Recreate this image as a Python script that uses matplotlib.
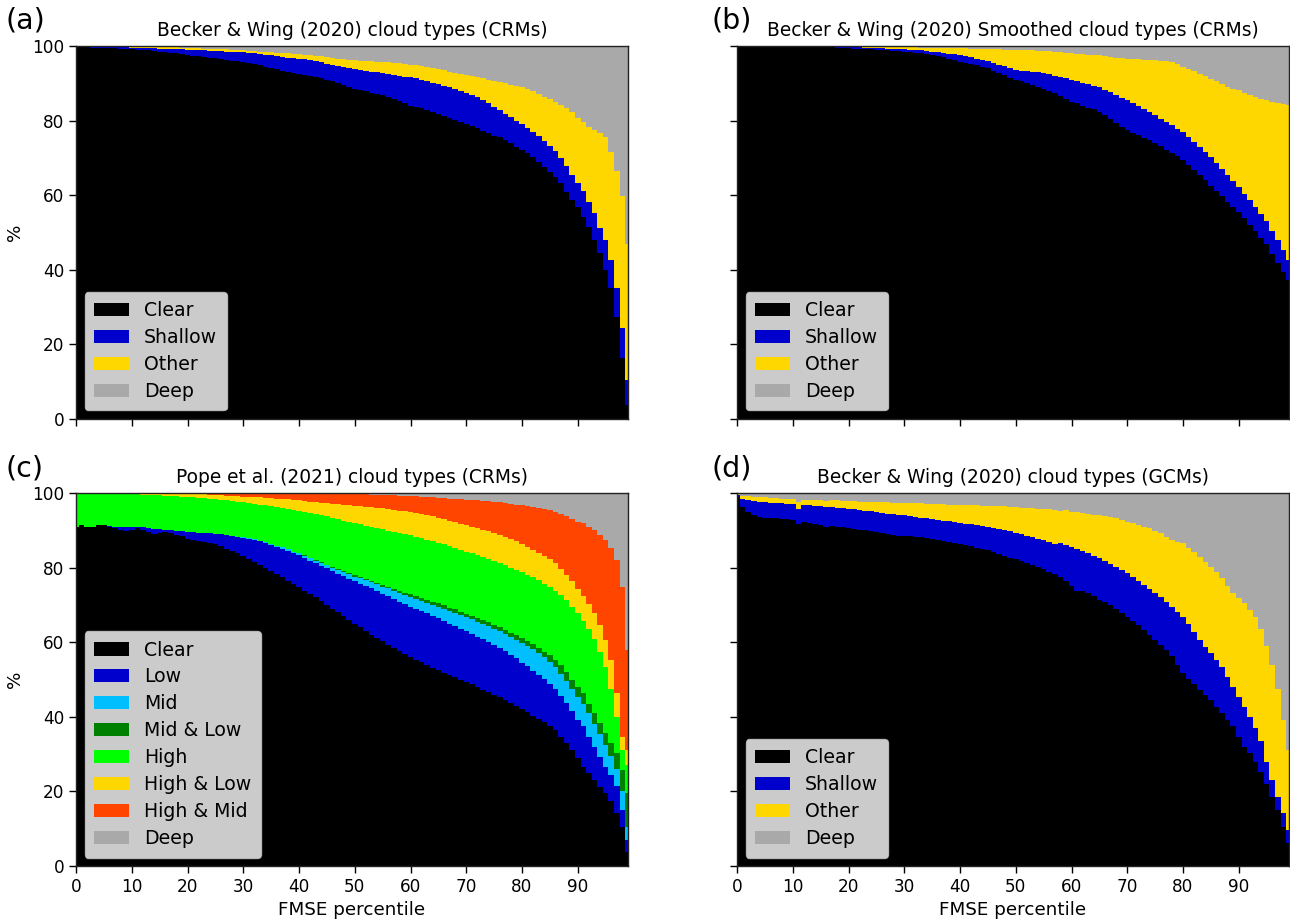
import numpy as np
import matplotlib
matplotlib.use("Agg")
import matplotlib.pyplot as plt
from matplotlib.patches import Patch

# ---------------- data: cumulative percentage (top of each stacked layer) ----------------
percentile = np.arange(100)

# Panel (a): Becker & Wing (2020) cloud types (CRMs)
a_clear = [99.6, 99.6, 99.6, 99.5, 99.5, 99.5, 99.4, 99.4, 99.3, 99.2,
           99.1, 99.0, 98.9, 98.8, 98.7, 98.5, 98.4, 98.2, 98.0, 97.8,
           97.6, 97.4, 97.2, 97.0, 96.9, 96.7, 96.5, 96.3, 96.1, 95.9,
           95.8, 95.5, 95.2, 94.9, 94.5, 94.0, 93.7, 93.4, 93.1, 92.8,
           92.6, 92.3, 91.9, 91.6, 91.3, 91.0, 90.5, 90.1, 89.6, 89.1,
           88.6, 88.2, 87.9, 87.5, 87.2, 86.8, 86.4, 85.9, 85.3, 84.7,
           84.0, 83.6, 83.3, 82.8, 82.4, 81.8, 81.2, 80.7, 80.2, 79.6,
           79.1, 78.5, 77.9, 77.3, 76.6, 76.0, 75.5, 74.7, 73.9, 73.0,
           72.1, 71.2, 70.3, 69.0, 67.6, 66.3, 65.0, 63.2, 60.9, 58.7,
           56.9, 54.2, 51.6, 48.0, 44.4, 40.0, 35.0, 27.4, 16.3, 3.8]
a_shallow = [99.7, 99.7, 99.7, 99.7, 99.7, 99.7, 99.6, 99.6, 99.6, 99.6,
             99.5, 99.5, 99.5, 99.4, 99.4, 99.3, 99.3, 99.2, 99.1, 99.1,
             99.0, 98.9, 98.9, 98.8, 98.7, 98.7, 98.6, 98.5, 98.5, 98.4,
             98.3, 98.2, 98.1, 97.9, 97.7, 97.5, 97.3, 97.1, 96.9, 96.8,
             96.6, 96.4, 96.2, 95.9, 95.6, 95.3, 95.0, 94.7, 94.4, 94.1,
             93.8, 93.6, 93.4, 93.1, 92.9, 92.7, 92.5, 92.3, 92.0, 91.8,
             91.6, 91.3, 91.0, 90.6, 90.2, 89.8, 89.4, 88.9, 88.5, 88.0,
             87.5, 86.9, 86.2, 85.4, 84.6, 83.7, 82.8, 81.9, 80.9, 80.0,
             79.0, 78.0, 76.9, 75.8, 74.6, 73.2, 71.8, 70.0, 67.8, 65.4,
             63.2, 61.0, 58.3, 55.1, 51.1, 48.0, 42.6, 35.0, 24.3, 10.5]
a_other = [99.8, 99.8, 99.8, 99.8, 99.8, 99.8, 99.8, 99.8, 99.8, 99.8,
           99.8, 99.7, 99.7, 99.7, 99.7, 99.7, 99.6, 99.6, 99.6, 99.5,
           99.5, 99.4, 99.4, 99.3, 99.3, 99.2, 99.1, 99.1, 99.0, 98.9,
           98.8, 98.7, 98.6, 98.5, 98.4, 98.3, 98.2, 98.1, 98.0, 97.9,
           97.8, 97.6, 97.5, 97.3, 97.2, 97.0, 96.8, 96.6, 96.4, 96.3,
           96.2, 96.1, 96.0, 95.9, 95.8, 95.7, 95.6, 95.5, 95.4, 95.2,
           95.0, 94.8, 94.6, 94.4, 94.1, 93.8, 93.5, 93.1, 92.8, 92.5,
           92.2, 91.9, 91.6, 91.3, 91.0, 90.6, 90.3, 90.0, 89.6, 89.3,
           89.0, 88.5, 87.9, 87.2, 86.4, 85.8, 85.0, 84.2, 83.4, 82.2,
           80.8, 79.7, 78.4, 77.5, 76.8, 75.5, 71.5, 66.5, 59.8, 47.0]

# Panel (b): Becker & Wing (2020) Smoothed cloud types (CRMs)
b_clear = [99.8, 99.8, 99.8, 99.8, 99.8, 99.8, 99.8, 99.8, 99.8, 99.8,
           99.8, 99.8, 99.7, 99.7, 99.7, 99.6, 99.6, 99.6, 99.5, 99.5,
           99.4, 99.3, 99.3, 99.2, 99.1, 99.0, 98.9, 98.8, 98.7, 98.6,
           98.5, 98.3, 98.2, 98.0, 97.8, 97.6, 97.3, 97.0, 96.6, 96.2,
           95.8, 95.5, 95.1, 94.8, 94.4, 94.0, 93.4, 92.8, 92.2, 91.5,
           90.9, 90.5, 90.0, 89.6, 89.1, 88.6, 88.0, 87.3, 86.6, 85.8,
           85.1, 84.6, 84.0, 83.5, 83.0, 82.3, 81.4, 80.4, 79.4, 78.4,
           77.5, 76.8, 76.1, 75.4, 74.7, 74.0, 73.1, 72.2, 71.3, 70.4,
           69.5, 68.2, 66.8, 65.4, 64.0, 62.5, 61.1, 59.7, 58.3, 56.9,
           55.5, 53.8, 52.1, 50.5, 48.6, 46.8, 44.3, 41.8, 39.5, 37.2]
b_shallow = [99.9, 99.9, 99.9, 99.9, 99.9, 99.9, 99.9, 99.9, 99.9, 99.9,
             99.9, 99.9, 99.8, 99.8, 99.8, 99.8, 99.7, 99.7, 99.7, 99.7,
             99.6, 99.6, 99.6, 99.5, 99.5, 99.4, 99.4, 99.3, 99.2, 99.2,
             99.1, 99.0, 98.9, 98.8, 98.6, 98.5, 98.3, 98.1, 97.9, 97.8,
             97.6, 97.3, 97.0, 96.6, 96.3, 95.9, 95.5, 95.0, 94.6, 94.1,
             93.6, 93.4, 93.3, 93.1, 92.9, 92.7, 92.4, 92.0, 91.6, 91.3,
             90.9, 90.5, 90.2, 89.8, 89.4, 89.0, 88.3, 87.6, 86.9, 86.1,
             85.4, 84.6, 83.8, 83.0, 82.2, 81.4, 80.5, 79.6, 78.7, 77.8,
             76.9, 75.6, 74.3, 73.0, 71.6, 70.2, 68.6, 67.0, 65.4, 63.8,
             62.2, 60.4, 58.6, 56.8, 55.0, 53.2, 50.5, 47.9, 45.2, 42.5]
b_other = [99.95, 99.95, 99.95, 99.95, 99.95, 99.95, 99.95, 99.95, 99.95, 99.95,
           99.95, 99.95, 99.95, 99.95, 99.95, 99.95, 99.95, 99.95, 99.95, 99.95,
           99.9, 99.9, 99.9, 99.85, 99.85, 99.8, 99.8, 99.75, 99.7, 99.7,
           99.65, 99.6, 99.6, 99.55, 99.5, 99.5, 99.45, 99.45, 99.4, 99.4,
           99.4, 99.35, 99.3, 99.3, 99.2, 99.2, 99.1, 99.1, 99.0, 99.0,
           98.9, 98.9, 98.8, 98.8, 98.7, 98.7, 98.6, 98.4, 98.3, 98.1,
           98.0, 97.9, 97.8, 97.7, 97.6, 97.5, 97.3, 97.1, 96.9, 96.7,
           96.6, 96.5, 96.4, 96.3, 96.3, 96.2, 96.1, 96.0, 95.7, 95.1,
           94.4, 93.8, 93.2, 92.6, 91.9, 91.2, 90.5, 89.8, 89.0, 88.6,
           88.1, 87.5, 86.8, 86.4, 85.9, 85.5, 85.0, 84.7, 84.5, 84.1]

# Panel (c): Pope et al. (2021) cloud types (CRMs)
c_clear = [91.0, 91.3, 90.9, 91.0, 91.3, 91.4, 90.9, 90.6, 90.2, 89.8,
           90.2, 90.5, 90.0, 89.6, 89.0, 89.2, 89.5, 89.2, 88.8, 88.5,
           87.8, 87.5, 87.2, 86.9, 86.6, 86.2, 85.7, 85.1, 84.5, 83.8,
           83.0, 82.3, 81.6, 80.8, 80.0, 79.2, 78.3, 77.4, 76.5, 75.6,
           74.7, 73.8, 72.9, 72.0, 71.0, 70.0, 69.0, 68.0, 67.0, 66.0,
           65.0, 64.0, 63.0, 62.0, 61.1, 60.2, 59.3, 58.4, 57.6, 56.8,
           56.0, 55.3, 54.6, 53.9, 53.2, 52.5, 51.8, 51.2, 50.6, 50.0,
           49.4, 48.7, 48.0, 47.3, 46.6, 45.9, 45.2, 44.4, 43.6, 42.8,
           42.0, 41.2, 40.3, 39.4, 38.5, 37.6, 36.4, 34.7, 33.0, 31.1,
           29.0, 26.6, 24.8, 23.0, 21.2, 19.5, 17.5, 14.1, 10.5, 3.8]
c_low = [91.0, 91.3, 90.9, 91.0, 91.3, 91.4, 91.2, 91.0, 90.9, 90.9,
         91.0, 91.0, 90.8, 90.6, 90.4, 90.3, 90.2, 90.0, 89.8, 89.7,
         89.6, 89.5, 89.4, 89.3, 89.2, 89.1, 89.0, 88.8, 88.6, 88.3,
         88.0, 87.7, 87.4, 87.0, 86.6, 86.1, 85.6, 85.1, 84.5, 83.9,
         83.3, 82.6, 81.9, 81.2, 80.5, 79.8, 79.1, 78.4, 77.7, 77.0,
         76.3, 75.7, 75.1, 74.4, 73.7, 73.0, 72.3, 71.6, 70.9, 70.2,
         69.5, 68.9, 68.3, 67.7, 67.1, 66.4, 65.7, 65.0, 64.3, 63.6,
         62.9, 62.2, 61.5, 60.8, 60.0, 59.2, 58.4, 57.6, 56.7, 55.8,
         54.5, 53.5, 52.4, 51.3, 50.1, 48.8, 47.4, 45.6, 43.6, 41.5,
         39.2, 37.4, 34.7, 32.0, 29.3, 26.6, 24.5, 21.5, 15.0, 7.0]
c_mid = [91.0, 91.3, 90.9, 91.0, 91.3, 91.4, 91.2, 91.0, 90.9, 90.9,
         91.0, 91.0, 90.8, 90.6, 90.4, 90.3, 90.2, 90.0, 89.8, 89.7,
         89.6, 89.5, 89.4, 89.3, 89.2, 89.1, 89.0, 88.8, 88.6, 88.3,
         88.2, 87.9, 87.6, 87.2, 86.8, 86.4, 85.9, 85.4, 84.9, 84.3,
         83.8, 83.2, 82.5, 81.9, 81.2, 80.6, 80.0, 79.4, 78.8, 78.2,
         77.6, 77.1, 76.6, 76.1, 75.5, 74.9, 74.4, 73.8, 73.2, 72.7,
         72.1, 71.6, 71.1, 70.6, 70.1, 69.5, 69.0, 68.4, 67.8, 67.2,
         66.7, 66.1, 65.5, 64.9, 64.3, 63.6, 62.9, 62.2, 61.5, 60.7,
         59.9, 59.0, 58.1, 57.1, 56.0, 54.7, 53.3, 51.6, 49.6, 47.5,
         45.4, 43.5, 41.0, 38.2, 35.3, 32.5, 29.5, 26.0, 20.0, 10.5]
c_midlow = [91.0, 91.3, 90.9, 91.0, 91.3, 91.4, 91.2, 91.0, 90.9, 90.9,
            91.0, 91.0, 90.8, 90.6, 90.4, 90.3, 90.2, 90.0, 89.8, 89.7,
            89.6, 89.5, 89.4, 89.3, 89.2, 89.1, 89.0, 88.8, 88.6, 88.3,
            88.2, 87.9, 87.6, 87.2, 86.8, 86.4, 85.9, 85.4, 84.9, 84.3,
            83.9, 83.3, 82.7, 82.1, 81.4, 80.8, 80.2, 79.6, 79.1, 78.6,
            78.0, 77.5, 77.0, 76.5, 76.0, 75.4, 74.9, 74.3, 73.8, 73.3,
            72.8, 72.3, 71.9, 71.4, 70.9, 70.4, 69.9, 69.3, 68.8, 68.2,
            67.6, 67.1, 66.5, 65.9, 65.3, 64.7, 64.0, 63.3, 62.6, 61.9,
            61.1, 60.3, 59.4, 58.5, 57.5, 56.5, 55.3, 53.8, 52.0, 50.0,
            48.0, 46.3, 43.5, 40.9, 38.3, 35.6, 32.9, 30.2, 25.7, 19.5]
c_high = [99.8, 99.8, 99.8, 99.8, 99.8, 99.7, 99.7, 99.7, 99.7, 99.6,
          99.6, 99.6, 99.5, 99.5, 99.4, 99.4, 99.3, 99.2, 99.1, 99.0,
          98.9, 98.8, 98.7, 98.6, 98.5, 98.3, 98.2, 98.0, 97.8, 97.7,
          97.5, 97.3, 97.1, 96.9, 96.7, 96.5, 96.3, 96.0, 95.7, 95.5,
          95.2, 94.9, 94.6, 94.3, 94.0, 93.7, 93.4, 93.0, 92.6, 92.3,
          91.9, 91.6, 91.2, 90.9, 90.6, 90.3, 89.9, 89.6, 89.3, 89.0,
          88.7, 88.3, 87.9, 87.5, 87.1, 86.7, 86.2, 85.7, 85.2, 84.8,
          84.3, 83.8, 83.3, 82.8, 82.3, 81.8, 81.2, 80.6, 80.0, 79.4,
          78.8, 78.1, 77.4, 76.6, 75.7, 74.8, 73.8, 72.7, 71.2, 69.5,
          67.8, 65.8, 63.5, 60.8, 57.5, 53.4, 47.5, 40.0, 31.1, 27.0]
c_highlow = [99.9, 99.9, 99.9, 99.9, 99.9, 99.9, 99.9, 99.9, 99.9, 99.9,
             99.9, 99.9, 99.9, 99.9, 99.9, 99.85, 99.85, 99.8, 99.8, 99.8,
             99.75, 99.7, 99.65, 99.6, 99.55, 99.5, 99.4, 99.3, 99.2, 99.1,
             99.0, 98.95, 98.9, 98.8, 98.7, 98.6, 98.5, 98.4, 98.3, 98.15,
             98.0, 97.85, 97.7, 97.55, 97.4, 97.25, 97.1, 96.95, 96.8, 96.65,
             96.5, 96.4, 96.3, 96.2, 96.1, 95.9, 95.7, 95.5, 95.3, 95.1,
             94.9, 94.6, 94.3, 94.0, 93.7, 93.3, 93.0, 92.6, 92.2, 91.8,
             91.4, 91.0, 90.6, 90.2, 89.8, 89.3, 88.8, 88.2, 87.6, 87.0,
             86.3, 85.6, 84.8, 84.0, 83.2, 82.4, 81.1, 79.7, 78.1, 76.3,
             74.3, 72.5, 70.3, 67.8, 64.5, 60.6, 55.2, 46.3, 34.7, 31.0]
c_highmid = [100.0, 100.0, 100.0, 100.0, 100.0, 100.0, 100.0, 100.0, 100.0, 100.0,
             100.0, 100.0, 100.0, 100.0, 100.0, 100.0, 100.0, 100.0, 100.0, 100.0,
             99.95, 99.95, 99.95, 99.95, 99.95, 99.95, 99.95, 99.95, 99.95, 99.95,
             99.9, 99.9, 99.9, 99.9, 99.9, 99.9, 99.9, 99.9, 99.9, 99.9,
             99.9, 99.9, 99.85, 99.85, 99.8, 99.8, 99.75, 99.75, 99.7, 99.7,
             99.65, 99.6, 99.6, 99.55, 99.5, 99.45, 99.4, 99.35, 99.3, 99.25,
             99.2, 99.1, 99.0, 98.9, 98.8, 98.7, 98.6, 98.5, 98.4, 98.3,
             98.2, 98.1, 98.0, 97.9, 97.8, 97.6, 97.5, 97.3, 97.1, 96.9,
             96.7, 96.5, 96.3, 96.1, 95.8, 95.5, 95.0, 94.5, 93.7, 92.9,
             92.3, 91.9, 91.0, 90.0, 88.7, 87.4, 85.2, 82.0, 74.9, 57.9]

# Panel (d): Becker & Wing (2020) cloud types (GCMs)
d_clear = [98.9, 96.2, 94.9, 94.0, 93.6, 93.4, 93.3, 93.2, 93.1, 93.0,
           92.7, 91.8, 92.2, 92.0, 91.7, 91.4, 90.9, 91.2, 91.0, 90.8,
           90.6, 90.4, 90.2, 90.0, 89.7, 89.5, 89.3, 89.0, 88.8, 88.5,
           88.5, 88.4, 88.3, 88.1, 88.0, 87.8, 87.5, 87.2, 86.9, 86.6,
           86.4, 86.0, 85.7, 85.2, 84.9, 84.6, 84.2, 83.7, 83.2, 82.7,
           82.2, 81.7, 81.2, 80.7, 80.2, 79.6, 78.9, 78.2, 77.4, 76.4,
           75.0, 73.6, 73.8, 73.2, 72.3, 71.3, 70.8, 70.0, 69.0, 67.8,
           66.8, 65.7, 64.5, 63.3, 62.0, 60.6, 59.3, 57.9, 56.2, 54.0,
           51.7, 50.2, 48.7, 47.2, 45.9, 44.5, 42.7, 40.9, 39.2, 37.4,
           34.7, 32.0, 30.2, 28.0, 25.2, 22.0, 18.6, 15.0, 10.5, 6.1]
d_shallow = [99.4, 98.5, 98.0, 97.8, 97.6, 97.5, 97.4, 97.3, 97.2, 97.1,
             97.0, 95.8, 96.7, 96.7, 96.6, 96.5, 96.3, 96.2, 96.0, 95.9,
             95.8, 95.6, 95.5, 95.3, 95.1, 94.9, 94.7, 94.5, 94.3, 94.1,
             94.0, 93.8, 93.6, 93.4, 93.2, 93.0, 92.8, 92.6, 92.4, 92.2,
             92.0, 91.8, 91.6, 91.4, 91.2, 90.9, 90.6, 90.3, 90.0, 89.7,
             89.4, 89.0, 88.6, 88.2, 87.8, 87.4, 86.9, 86.4, 86.6, 86.0,
             85.5, 85.0, 84.4, 83.8, 83.2, 82.5, 81.8, 81.0, 80.2, 79.3,
             78.5, 77.5, 76.4, 75.3, 74.2, 73.1, 72.0, 70.8, 69.5, 68.2,
             66.8, 64.8, 62.7, 60.6, 58.8, 57.0, 55.2, 53.4, 50.7, 48.1,
             45.4, 42.7, 40.0, 37.0, 33.5, 28.0, 23.0, 18.6, 14.1, 9.7]
d_other = [99.6, 99.3, 99.1, 99.0, 98.9, 98.8, 98.7, 98.6, 98.5, 98.4,
           98.3, 97.6, 98.2, 98.2, 98.1, 98.0, 97.9, 98.1, 98.0, 97.9,
           97.8, 97.8, 97.7, 97.7, 97.6, 97.6, 97.5, 97.5, 97.4, 97.4,
           97.3, 97.3, 97.2, 97.2, 97.1, 97.1, 97.0, 97.0, 96.9, 96.9,
           96.8, 96.8, 96.7, 96.7, 96.6, 96.6, 96.5, 96.5, 96.4, 96.3,
           96.2, 96.1, 96.0, 95.9, 95.8, 95.7, 95.6, 95.4, 95.2, 95.4,
           95.0, 94.8, 94.6, 94.4, 94.2, 94.1, 93.8, 93.5, 93.2, 92.8,
           92.3, 91.9, 91.5, 91.0, 90.5, 89.9, 89.3, 88.3, 87.4, 86.9,
           86.5, 85.3, 84.1, 82.9, 81.6, 80.2, 78.7, 77.1, 75.1, 73.1,
           71.9, 70.6, 68.7, 66.8, 63.5, 59.0, 54.0, 47.5, 39.1, 31.1]

total = [100.0] * 100

bw_labels = ["Clear", "Shallow", "Other", "Deep"]
bw_colors = ["#000000", "#0000CD", "#FFD700", "#A9A9A9"]
pope_labels = ["Clear", "Low", "Mid", "Mid & Low", "High", "High & Low", "High & Mid", "Deep"]
pope_colors = ["#000000", "#0000CD", "#00BFFF", "#008000", "#00FF00", "#FFD700", "#FF4500", "#A9A9A9"]

titles = ["Becker & Wing (2020) cloud types (CRMs)",
          "Becker & Wing (2020) Smoothed cloud types (CRMs)",
          "Pope et al. (2021) cloud types (CRMs)",
          "Becker & Wing (2020) cloud types (GCMs)"]
panel_tags = ["(a)", "(b)", "(c)", "(d)"]
xticks = [0, 10, 20, 30, 40, 50, 60, 70, 80, 90]
yticks = [0, 20, 40, 60, 80, 100]

panels = [
    ([a_clear, a_shallow, a_other, total], bw_labels, bw_colors),
    ([b_clear, b_shallow, b_other, total], bw_labels, bw_colors),
    ([c_clear, c_low, c_mid, c_midlow, c_high, c_highlow, c_highmid, total], pope_labels, pope_colors),
    ([d_clear, d_shallow, d_other, total], bw_labels, bw_colors),
]

# ---------------- figure ----------------
W, H = 1290, 922
fig = plt.figure(figsize=(W / 100, H / 100), dpi=100)

ax_w = 552 / W
ax_h = 373 / H
lefts = [76 / W, 737 / W, 76 / W, 737 / W]
bottoms = [1 - 419 / H, 1 - 419 / H, 1 - 866 / H, 1 - 866 / H]
tag_x = [5 / W, 711 / W, 5 / W, 711 / W]
tag_y = [1 - 28 / H, 1 - 28 / H, 1 - 476 / H, 1 - 476 / H]

for i, (tops, labels, colors) in enumerate(panels):
    ax = fig.add_axes([lefts[i], bottoms[i], ax_w, ax_h])
    # draw from the topmost layer down so each lower layer covers the one above
    for top, col in reversed(list(zip(tops, colors))):
        ax.fill_between(percentile, 0, top, step="mid", facecolor=col,
                        edgecolor="none", linewidth=0)
    ax.set_xlim(0, 99)
    ax.set_ylim(0, 100)
    ax.set_xticks(xticks)
    ax.set_yticks(yticks)
    ax.tick_params(labelsize=12.2, length=5, width=1)
    if i < 2:
        ax.set_xticklabels([])
    else:
        ax.set_xlabel("FMSE percentile", fontsize=13.2, labelpad=4)
    if i % 2 == 1:
        ax.set_yticklabels([])
    else:
        ax.set_ylabel("%", fontsize=13.2, labelpad=6)
    ax.set_title(titles[i], fontsize=13.4, pad=7)
    fig.text(tag_x[i], tag_y[i], panel_tags[i], fontsize=20.5,
             ha="left", va="baseline")
    handles = [Patch(facecolor=c, edgecolor="none", label=l) for l, c in zip(labels, colors)]
    ax.legend(handles=handles, loc="lower left", fontsize=13.6,
              borderaxespad=0.45, borderpad=0.5, handlelength=1.85,
              labelspacing=0.42)
    for s in ax.spines.values():
        s.set_linewidth(1.0)
        s.set_color("#222222")

fig.savefig("out.png", dpi=100)
